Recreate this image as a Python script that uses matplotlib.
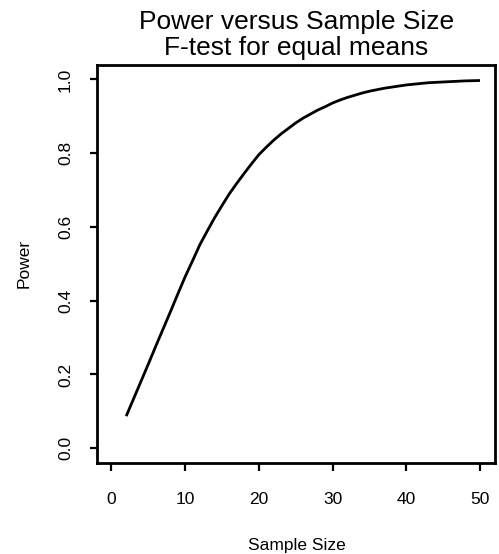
import matplotlib
matplotlib.use("Agg")
import matplotlib.pyplot as plt

plt.rcParams['font.family'] = ['Liberation Sans', 'DejaVu Sans']

# Power of the F-test at each sample size
sample_size = list(range(2, 51))
power = [0.087, 0.134, 0.181, 0.228, 0.276, 0.323, 0.370, 0.418, 0.465,
         0.508, 0.552, 0.589, 0.625, 0.658, 0.690, 0.718, 0.745, 0.771,
         0.796, 0.816, 0.835, 0.852, 0.867, 0.882, 0.895, 0.906, 0.917,
         0.926, 0.936, 0.944, 0.951, 0.957, 0.963, 0.968, 0.972, 0.976,
         0.979, 0.982, 0.985, 0.987, 0.989, 0.991, 0.992, 0.993, 0.994,
         0.995, 0.996, 0.9965, 0.997]

x_ticks = [0, 10, 20, 30, 40, 50]
y_ticks = [0.0, 0.2, 0.4, 0.6, 0.8, 1.0]

fig = plt.figure(figsize=(4.99, 5.54), dpi=100)
ax = fig.add_axes([0.1938, 0.1643, 0.7976, 0.719])

ax.plot(sample_size, power, color='black', linewidth=2.0,
        solid_capstyle='butt', solid_joinstyle='round')

ax.set_xlim(-2, 52)
ax.set_ylim(-0.04, 1.04)
ax.set_xticks(x_ticks)
ax.set_xticklabels([str(v) for v in x_ticks])
ax.set_yticks(y_ticks)
ax.set_yticklabels([f"{v:.1f}" for v in y_ticks], rotation=90, va='center')

for sp in ax.spines.values():
    sp.set_linewidth(2.0)

ax.tick_params(axis='x', length=6, width=1.6, pad=15, labelsize=12.5)
ax.tick_params(axis='y', length=5, width=1.6, pad=12, labelsize=12.5)

fig.text(0.594, 1 - 29 / 554, "Power versus Sample Size", ha='center',
         va='baseline', fontsize=19)
fig.text(0.594, 1 - 55 / 554, "F-test for equal means", ha='center',
         va='baseline', fontsize=19)
fig.text(0.594, 1 - 550 / 554, "Sample Size", ha='center', va='baseline',
         fontsize=12.5)
fig.text(24 / 499, 1 - 263 / 554, "Power", ha='center', va='center',
         rotation=90, fontsize=12.5)

fig.savefig("out.png", dpi=100)
